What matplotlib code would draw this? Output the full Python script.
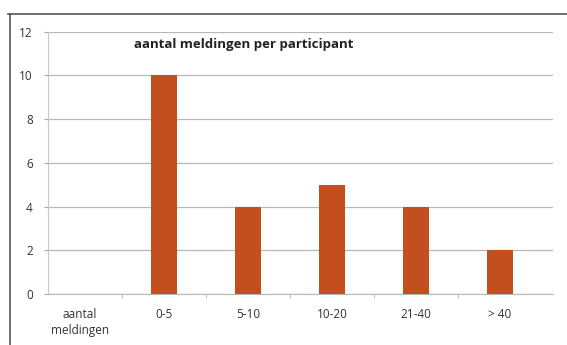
import matplotlib.pyplot as plt
from matplotlib.lines import Line2D

# aantal meldingen per participant
categories = ['aantal\nmeldingen', '0-5', '5-10', '10-20', '21-40', '> 40']
counts = [0, 10, 4, 5, 4, 2]
yticks = [0, 2, 4, 6, 8, 10, 12]

plt.rcParams['font.family'] = ['Open Sans', 'DejaVu Sans']

fig = plt.figure(figsize=(5.67, 3.45), dpi=100)
ax = fig.add_axes([0.085, 0.148, 0.89, 0.76])

x = list(range(len(categories)))
ax.bar(x, counts, width=0.3, color='#C24F1D', zorder=3)

ax.set_xlim(-0.38, 5.63)
ax.set_ylim(0, 12)
ax.set_yticks(yticks)
ax.set_xticks(x)
ax.set_xticklabels(categories, fontsize=8.5, color='#333333', linespacing=1.3)
ax.tick_params(axis='y', labelsize=8.5, colors='#333333', length=3, color='#aaaaaa', pad=8)
ax.tick_params(axis='x', length=0, pad=10)
# small ticks between the categories
ax.set_xticks([i + 0.5 for i in range(5)], minor=True)
ax.tick_params(axis='x', which='minor', length=3, color='#aaaaaa', direction='out')
ax.grid(axis='y', color='#b8b8b8', linewidth=0.9, zorder=0)

for side in ['top', 'right']:
    ax.spines[side].set_visible(False)
ax.spines['left'].set_color('#c8c8c8')
ax.spines['bottom'].set_color('#b8b8b8')

ax.text(0.17, 0.975, 'aantal meldingen per participant', transform=ax.transAxes,
        fontsize=9.5, fontweight='bold', color='#222222', va='top')

# outer frame of the chart
fig.add_artist(Line2D([8 / 567, 1.0], [1 - 14 / 345] * 2, transform=fig.transFigure,
                      color='#555555', linewidth=1.2))
fig.add_artist(Line2D([10 / 567] * 2, [0.0, 1 - 14 / 345], transform=fig.transFigure,
                      color='#555555', linewidth=1.2))

fig.savefig('out.png', dpi=100)
